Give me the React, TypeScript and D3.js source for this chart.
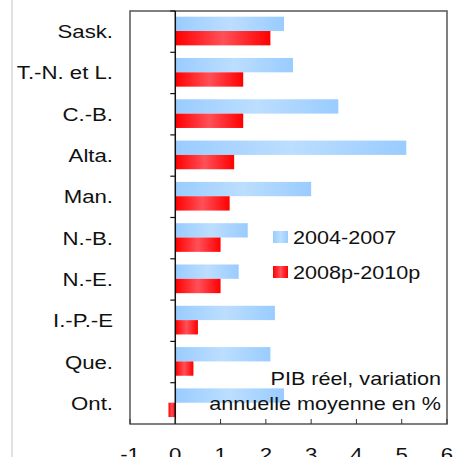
import React, { useEffect, useRef } from "react";
import * as d3 from "d3";

const provinces = ["Sask.", "T.-N. et L.", "C.-B.", "Alta.", "Man.", "N.-B.", "N.-E.", "I.-P.-E", "Que.", "Ont."];
const series = ["2004-2007", "2008p-2010p"];
const growth0407 = [2.4, 2.6, 3.6, 5.1, 3.0, 1.6, 1.4, 2.2, 2.1, 2.4];
const growth0810 = [2.1, 1.5, 1.5, 1.3, 1.2, 1.0, 1.0, 0.5, 0.4, -0.15];
const xTicks = [-1, 0, 1, 2, 3, 4, 5, 6];
const noteLines = ["PIB réel, variation", "annuelle moyenne en %"];

const App = () => {
  const ref = useRef<SVGSVGElement>(null);

  useEffect(() => {
    const h = 457;
    const left = 130, right = 447, top = 11, bottom = 424;
    const font = "'Liberation Sans', Arial, sans-serif";
    const stretch = 1.2; // text in the picture is a bit wide

    const svg = d3.select(ref.current);
    svg.selectAll("*").remove();

    const defs = svg.append("defs");
    const grad = (id: string, edge: string, mid: string) => {
      const g = defs.append("linearGradient").attr("id", id)
        .attr("x1", "0%").attr("x2", "100%").attr("y1", "0%").attr("y2", "0%");
      g.append("stop").attr("offset", "0%").attr("stop-color", edge);
      g.append("stop").attr("offset", "50%").attr("stop-color", mid);
      g.append("stop").attr("offset", "100%").attr("stop-color", edge);
    };
    grad("gBlue", "#99ccff", "#bcdeff");
    grad("gRed", "#ff0000", "#ff5058");
    const fills = ["url(#gBlue)", "url(#gRed)"];

    // light gray line on the left of the picture
    svg.append("rect").attr("x", 11).attr("y", 0).attr("width", 2).attr("height", h).attr("fill", "#e2e2e2");

    const x = d3.scaleLinear().domain([-1, 6]).range([left, right]);
    const y = d3.scaleBand<string>().domain(provinces).range([top, bottom]);
    const inner = d3.scaleBand<string>().domain(series).range([0, y.bandwidth()]).paddingOuter(0.44).align(0.45);

    const data = [growth0407, growth0810];
    series.forEach((s, si) => {
      svg.append("g").selectAll("rect")
        .data(provinces)
        .enter()
        .append("rect")
        .attr("x", (d, i) => x(Math.min(0, data[si][i])))
        .attr("y", d => (y(d) as number) + (inner(s) as number))
        .attr("width", (d, i) => Math.abs(x(data[si][i]) - x(0)))
        .attr("height", inner.bandwidth())
        .attr("fill", fills[si]);
    });

    // frame
    svg.append("rect").attr("x", left).attr("y", top).attr("width", right - left).attr("height", bottom - top)
      .attr("fill", "none").attr("stroke", "#555").attr("stroke-width", 1.5);

    // zero line with category ticks
    svg.append("line").attr("x1", x(0)).attr("x2", x(0)).attr("y1", top).attr("y2", bottom)
      .attr("stroke", "#111").attr("stroke-width", 1.5);
    const bounds = provinces.map(p => y(p) as number);
    svg.append("g").selectAll("line").data(bounds).enter().append("line")
      .attr("x1", x(0) - 5).attr("x2", x(0)).attr("y1", d => d).attr("y2", d => d)
      .attr("stroke", "#111").attr("stroke-width", 1.2);

    // bottom ticks, pointing inward
    svg.append("g").selectAll("line").data(xTicks).enter().append("line")
      .attr("x1", d => x(d)).attr("x2", d => x(d)).attr("y1", bottom).attr("y2", bottom - 5)
      .attr("stroke", "#333").attr("stroke-width", 1);

    const label = (g: any, size: string) => g
      .attr("font-family", font).attr("font-size", size).attr("fill", "#111");

    label(svg.append("g").selectAll("text").data(xTicks).enter().append("text"), "18.5px")
      .attr("transform", (d: number) => `translate(${x(d)},461) scale(${stretch},1)`)
      .attr("text-anchor", "middle")
      .text((d: number) => `${d}`);

    // category labels
    label(svg.append("g").selectAll("text").data(provinces).enter().append("text"), "18.5px")
      .attr("transform", (d: string) => `translate(113,${(y(d) as number) + y.bandwidth() / 2 + 6.5}) scale(${stretch},1)`)
      .attr("text-anchor", "end")
      .text((d: string) => d);

    // legend
    const legend = svg.append("g");
    series.forEach((s, i) => {
      legend.append("rect").attr("x", 273).attr("y", 231 + i * 35).attr("width", 15).attr("height", 12)
        .attr("fill", fills[i]);
      label(legend.append("text"), "18px")
        .attr("transform", `translate(293,${243.5 + i * 35}) scale(${stretch},1)`)
        .text(s);
    });

    // note
    label(svg.append("g").selectAll("text").data(noteLines).enter().append("text"), "18px")
      .attr("transform", (d: string, i: number) => `translate(441,${385 + i * 25}) scale(${stretch},1)`)
      .attr("text-anchor", "end")
      .text((d: string) => d);
  }, []);

  return (
    <svg ref={ref} width={461} height={457} style={{ position: "absolute", left: 0, top: 0, background: "#fff" }} />
  );
};

export default App;
